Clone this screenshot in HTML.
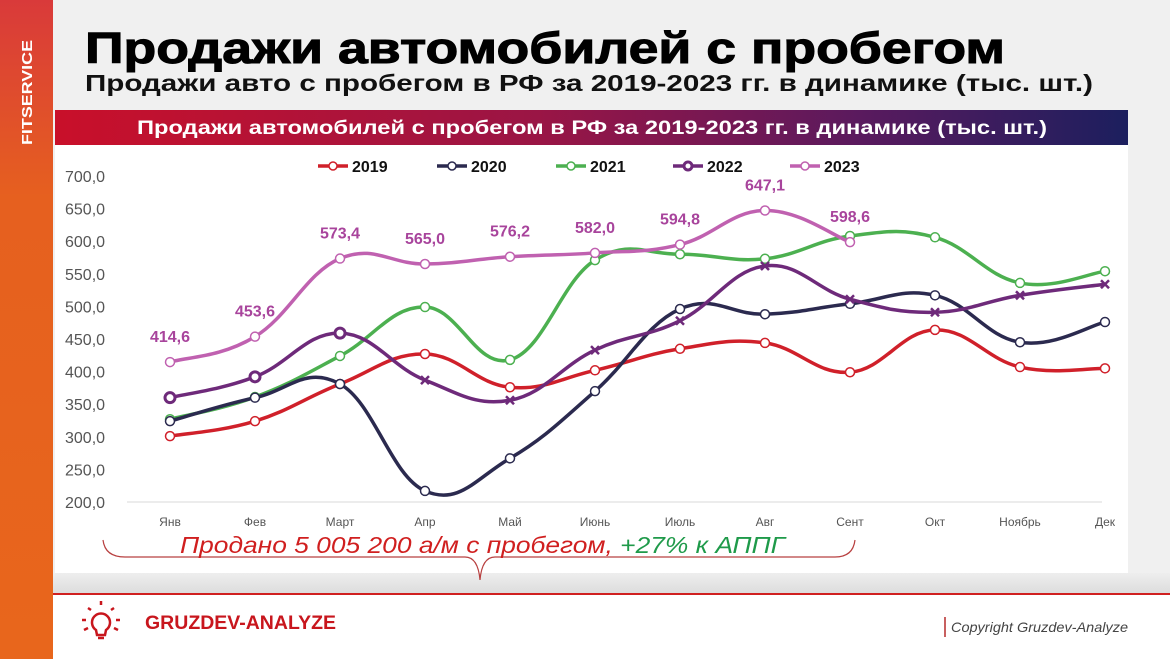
<!DOCTYPE html>
<html><head><meta charset="utf-8"><style>
html,body{margin:0;padding:0;width:1170px;height:659px;overflow:hidden;background:#f0f0f0;font-family:"Liberation Sans",sans-serif}
svg{display:block}
</style></head><body>
<svg id="chart" width="1170" height="659" viewBox="0 0 1170 659" xmlns="http://www.w3.org/2000/svg">
<defs>
<linearGradient id="side" x1="0" y1="0" x2="0" y2="1"><stop offset="0" stop-color="#d93a3a"/><stop offset="0.3" stop-color="#e6601f"/><stop offset="1" stop-color="#e8661c"/></linearGradient>
<linearGradient id="ban" x1="0" y1="0" x2="1" y2="0"><stop offset="0" stop-color="#c9102a"/><stop offset="0.45" stop-color="#9a1545"/><stop offset="0.75" stop-color="#5a1a5e"/><stop offset="1" stop-color="#1c1f5e"/></linearGradient>
<linearGradient id="shade" x1="0" y1="0" x2="0" y2="1"><stop offset="0" stop-color="#eeeeee"/><stop offset="1" stop-color="#dcdcdc"/></linearGradient>
</defs>
<rect x="0" y="0" width="1170" height="659" fill="#f0f0f0"/>
<rect x="53" y="573" width="1117" height="21" fill="url(#shade)"/>
<rect x="53" y="594" width="1117" height="65" fill="#ffffff"/>
<line x1="53" y1="594" x2="1170" y2="594" stroke="#d02020" stroke-width="2"/>
<rect x="0" y="0" width="53" height="659" fill="url(#side)"/>
<text x="0" y="0" transform="translate(32,145) rotate(-90)" fill="#fff" font-weight="bold" font-size="15" textLength="105" lengthAdjust="spacingAndGlyphs">FITSERVICE</text>
<text x="85" y="63" font-size="44" font-weight="900" fill="#000" stroke="#000" stroke-width="1" textLength="920" lengthAdjust="spacingAndGlyphs">Продажи автомобилей с пробегом</text>
<text x="85" y="91" font-size="23" font-weight="bold" fill="#111" textLength="1008" lengthAdjust="spacingAndGlyphs">Продажи авто с пробегом в РФ за 2019-2023 гг. в динамике (тыс. шт.)</text>
<rect x="55" y="110" width="1073" height="35" fill="url(#ban)"/>
<text x="137" y="134" font-size="19" font-weight="bold" fill="#fff" textLength="910" lengthAdjust="spacingAndGlyphs">Продажи автомобилей с пробегом в РФ за 2019-2023 гг. в динамике (тыс. шт.)</text>
<rect x="55" y="145" width="1073" height="428" fill="#ffffff"/>
<g id="yaxis"></g>
<g id="xaxis"></g>
<g id="series"></g>
<g id="legend"></g>
<path d="M103,540 Q105,557 125,557 L465,557 Q478,557 480,580 Q482,557 495,557 L835,557 Q853,557 855,540" fill="none" stroke="#b84040" stroke-width="1.2"/>
<text x="180" y="553" font-size="23" font-style="italic" fill="#d01f1f" textLength="605" lengthAdjust="spacingAndGlyphs">Продано 5 005 200 а/м с пробегом, <tspan fill="#1f9a4a">+27% к АППГ</tspan></text>
<g stroke="#c8161d" stroke-width="2.5" fill="none">
<path d="M96,630 a9,9 0 1 1 10,0 l-1,5 h-8 z"/><line x1="98" y1="638" x2="104" y2="638"/>
<line x1="101" y1="601" x2="101" y2="605"/><line x1="88" y1="608" x2="91" y2="610"/><line x1="114" y1="608" x2="111" y2="610"/>
<line x1="82" y1="620" x2="86" y2="620"/><line x1="116" y1="620" x2="120" y2="620"/><line x1="84" y1="630" x2="88" y2="628"/><line x1="118" y1="630" x2="114" y2="628"/>
</g>
<text x="145" y="629" font-size="19" font-weight="bold" fill="#c8161d" textLength="191" lengthAdjust="spacingAndGlyphs">GRUZDEV-ANALYZE</text>
<rect x="944" y="617" width="2" height="20" fill="#c86060"/>
<text x="951" y="632" font-size="14" font-style="italic" fill="#444" textLength="177" lengthAdjust="spacingAndGlyphs">Copyright Gruzdev-Analyze</text>
</svg>
<script>
const months = ["Янв","Фев","Март","Апр","Май","Июнь","Июль","Авг","Сент","Окт","Ноябрь","Дек"];
const yTicks = [200,250,300,350,400,450,500,550,600,650,700];
const years = ["2019","2020","2021","2022","2023"];
const s2019 = [301,324,381,427,376,402,435,444,399,464,407,405];
const s2020 = [324,360,381,217,267,370,496,488,504,517,445,476];
const s2021 = [327,361,424,499,418,571,580,573,608,606,536,554];
const s2022 = [360,392,459,387,356,433,478,562,511,491,517,534];
const s2023 = [414.6,453.6,573.4,565.0,576.2,582.0,594.8,647.1,598.6];
const labels2023 = ["414,6","453,6","573,4","565,0","576,2","582,0","594,8","647,1","598,6"];

const NS="http://www.w3.org/2000/svg";
const xS=i=>170+i*85;
const yS=v=>502-(v-200)*0.652;
function mk(tag,attrs,parent){const e=document.createElementNS(NS,tag);for(const k in attrs)e.setAttribute(k,attrs[k]);parent.appendChild(e);return e;}
const ya=document.getElementById('yaxis'),xa=document.getElementById('xaxis'),sg=document.getElementById('series'),lg=document.getElementById('legend');
yTicks.forEach(v=>{const t=mk('text',{x:65,y:yS(v)+6,'font-size':16,fill:'#555'},ya);t.textContent=v.toFixed(1).replace('.',',');

});
const gl=mk('line',{x1:127,x2:1102,y1:yS(200),y2:yS(200),stroke:'#d8d8d8','stroke-width':1},ya);


months.forEach((m,i)=>{const t=mk('text',{x:xS(i),y:526,'font-size':12,fill:'#555','text-anchor':'middle'},xa);t.textContent=m;

});
function smooth(pts){let d=`M${pts[0][0]},${pts[0][1]}`;for(let i=0;i<pts.length-1;i++){const p0=pts[i-1]||pts[i],p1=pts[i],p2=pts[i+1],p3=pts[i+2]||p2;const t=0.2;
d+=` C${p1[0]+(p2[0]-p0[0])*t},${p1[1]+(p2[1]-p0[1])*t} ${p2[0]-(p3[0]-p1[0])*t},${p2[1]-(p3[1]-p1[1])*t} ${p2[0]},${p2[1]}`;}return d;}
const colors=["#d0202a","#2b2a4f","#4cb050","#6e2a7a","#c061b0"];
const data=[s2019,s2020,s2021,s2022,s2023];
[2,0,1,3,4].forEach(k=>{const arr=data[k];const pts=arr.map((v,i)=>[xS(i),yS(v)]);
const g=mk('g',{},sg);


const p=mk('path',{d:smooth(pts),fill:'none',stroke:colors[k],'stroke-width':3.5},g);


pts.forEach((q,i)=>{let m;
if(k===3&&i>2){m=mk('path',{d:`M${q[0]-4},${q[1]-4}L${q[0]+4},${q[1]+4}M${q[0]+4},${q[1]-4}L${q[0]-4},${q[1]+4}`,stroke:colors[k],'stroke-width':2.5},g);}
else{m=mk('circle',{cx:q[0],cy:q[1],r:k===3?5:4.5,fill:'#fff',stroke:colors[k],'stroke-width':k===3?3:1.5},g);}

});
});
labels2023.forEach((l,i)=>{const t=mk('text',{x:xS(i),y:yS(s2023[i])-20,'font-size':16,'font-weight':'bold',fill:'#a8449c','text-anchor':'middle'},sg);t.textContent=l;

});
const lx=[318,437,556,673,790];
years.forEach((y,k)=>{const g=mk('g',{},lg);


mk('line',{x1:lx[k],x2:lx[k]+30,y1:166,y2:166,stroke:colors[k],'stroke-width':3.5},g);
mk('circle',{cx:lx[k]+15,cy:166,r:4,fill:'#fff',stroke:colors[k],'stroke-width':k===3?3:1.5},g);
const t=mk('text',{x:lx[k]+34,y:172,'font-size':16,'font-weight':'bold',fill:'#111'},g);t.textContent=y;});
</script>
</body></html>
